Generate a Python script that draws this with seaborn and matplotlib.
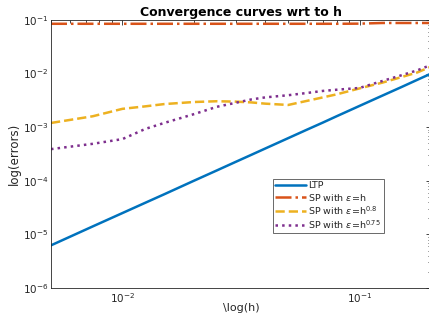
import numpy as np
import pandas as pd
import matplotlib
matplotlib.use("Agg")
import matplotlib.pyplot as plt
import seaborn as sns
from matplotlib.ticker import LogLocator, NullFormatter

h = [0.005, 0.0075, 0.01, 0.0125, 0.015, 0.02, 0.025, 0.03, 0.035, 0.04,
     0.05, 0.06, 0.07, 0.08, 0.1, 0.125, 0.15, 0.175, 0.2]
ltp = [6.25e-6, 1.41e-5, 2.5e-5, 3.9e-5, 5.6e-5, 1.0e-4, 1.56e-4, 2.25e-4, 3.06e-4, 4.0e-4,
       6.25e-4, 9.0e-4, 1.22e-3, 1.6e-3, 2.5e-3, 3.9e-3, 5.6e-3, 7.65e-3, 1.0e-2]
sp_h = [0.085, 0.085, 0.085, 0.085, 0.085, 0.085, 0.085, 0.085, 0.085, 0.085,
        0.085, 0.085, 0.085, 0.085, 0.0855, 0.088, 0.088, 0.088, 0.088]
sp_h08 = [1.2e-3, 1.6e-3, 2.2e-3, 2.45e-3, 2.7e-3, 2.95e-3, 3.05e-3, 3.0e-3, 2.9e-3, 2.75e-3,
          2.6e-3, 3.1e-3, 3.6e-3, 4.1e-3, 5.3e-3, 6.8e-3, 8.6e-3, 1.05e-2, 1.35e-2]
sp_h075 = [3.9e-4, 4.9e-4, 6.0e-4, 9.3e-4, 1.2e-3, 1.75e-3, 2.4e-3, 2.85e-3, 3.3e-3, 3.6e-3,
           3.95e-3, 4.35e-3, 4.75e-3, 5.0e-3, 5.4e-3, 7.3e-3, 9.3e-3, 1.15e-2, 1.45e-2]

labels = ["LTP", r"SP with $\varepsilon$=h", r"SP with $\varepsilon$=h$^{0.8}$",
          r"SP with $\varepsilon$=h$^{0.75}$"]
series = [ltp, sp_h, sp_h08, sp_h075]
colors = ["#0072BD", "#D95319", "#EDB120", "#7E2F8E"]
styles = ["-", "-.", "--", ":"]

df = pd.concat([pd.DataFrame({"h": h, "err": s, "method": lab})
                for s, lab in zip(series, labels)], ignore_index=True)

sns.set_style("white")
plt.rcParams["font.family"] = ["DejaVu Sans"]
plt.rcParams["mathtext.fontset"] = "dejavusans"

fig = plt.figure(figsize=(4.29, 3.13), dpi=100)
ax = fig.add_axes([51/429, 25/313, 380/429, 268/313])

for lab, col, ls in zip(labels, colors, styles):
    sub = df[df["method"] == lab]
    sns.lineplot(data=sub, x="h", y="err", ax=ax, color=col, linestyle=ls,
                 linewidth=1.8, label=lab, estimator=None, sort=False)

ax.set_xscale("log")
ax.set_yscale("log")
ax.set_xlim(0.005, 0.2)
ax.set_ylim(1e-6, 1e-1)

tc = "#262626"
for sp in ax.spines.values():
    sp.set_color(tc)
    sp.set_linewidth(0.6)
ax.yaxis.set_major_locator(LogLocator(base=10, numticks=10))
ax.yaxis.set_minor_locator(LogLocator(base=10, subs=np.arange(2, 10), numticks=10))
ax.xaxis.set_major_locator(LogLocator(base=10, numticks=10))
ax.xaxis.set_minor_locator(LogLocator(base=10, subs=np.arange(2, 10), numticks=10))
ax.xaxis.set_minor_formatter(NullFormatter())
ax.yaxis.set_minor_formatter(NullFormatter())
ax.tick_params(which="both", direction="in", top=True, right=True, colors=tc,
               labelsize=7.5, width=0.6, pad=2)
ax.tick_params(which="major", length=3.5)
ax.tick_params(which="minor", length=2)

ax.set_title("Convergence curves wrt to h", fontsize=9, fontweight="bold",
             color="black", pad=3)
ax.set_xlabel("\\log(h)", fontsize=8, color=tc, labelpad=-1)
ax.set_ylabel("log(errors)", fontsize=8.5, color=tc, labelpad=1)

leg = ax.legend(loc="upper left", bbox_to_anchor=(222/380, (288-179)/268),
                fontsize=6.8, frameon=True, fancybox=False, handlelength=3.2,
                handletextpad=0.3, borderpad=0.25, labelspacing=0.15,
                borderaxespad=0)
leg.get_frame().set_edgecolor(tc)
leg.get_frame().set_linewidth(0.6)

fig.savefig("out.png", dpi=100)
